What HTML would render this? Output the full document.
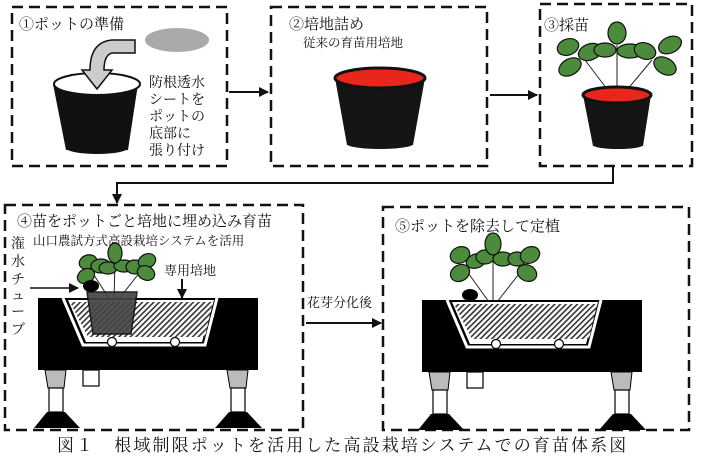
<!DOCTYPE html>
<html><head><meta charset="utf-8"><style>
html,body{margin:0;padding:0;background:#fff;}
svg{display:block;}
text{font-family:"Liberation Serif","Noto Serif CJK SC","Noto Sans CJK JP",serif;fill:#111;}
.lf{fill:#4c8a3c;stroke:#111;stroke-width:1.2;}
</style></head><body>
<svg width="701" height="460" viewBox="0 0 701 460" xmlns="http://www.w3.org/2000/svg">
<defs>
<pattern id="h" width="4" height="4" patternUnits="userSpaceOnUse" patternTransform="rotate(45)">
<rect width="4" height="4" fill="#fff"/><rect width="1.6" height="4" fill="#333"/>
</pattern>
<marker id="ar" markerWidth="10" markerHeight="10" refX="9" refY="5" orient="auto" markerUnits="userSpaceOnUse"><path d="M0,0 L10,5 L0,10 z" fill="#111"/></marker>
<g id="bench">
<rect x="0" y="0" width="220" height="72" fill="#000"/>
<path d="M25,0 L45,47 L167,47 L179,0" fill="none" stroke="#fff" stroke-width="3"/>
<path d="M28,2 L30,2 L48,44 L164,44 L176,2 Z" fill="#fff"/>
<path d="M32,4 L175,4 L167,39 L50,39 Z" fill="url(#h)"/>
<circle cx="74" cy="44" r="4.5" fill="#fff" stroke="#000" stroke-width="1.2"/>
<circle cx="137" cy="44" r="4.5" fill="#fff" stroke="#000" stroke-width="1.2"/>
<rect x="45" y="72" width="16" height="16" fill="#fff" stroke="#000" stroke-width="1.2"/>
<path d="M7,72 L28,72 L26,90 L10,90 Z" fill="#bbb" stroke="#000"/>
<rect x="11" y="90" width="14" height="24" fill="#fff" stroke="#000" stroke-width="1.2"/>
<path d="M9,114 L27,114 L42,130 L-4,130 Z" fill="#000"/>
<path d="M189,72 L210,72 L208,90 L192,90 Z" fill="#bbb" stroke="#000"/>
<rect x="193" y="90" width="14" height="24" fill="#fff" stroke="#000" stroke-width="1.2"/>
<path d="M191,114 L209,114 L224,130 L177,130 Z" fill="#000"/>
</g>
</defs>
<g fill="none" stroke="#111" stroke-width="2.5" stroke-dasharray="11,6">
<rect x="12" y="7" width="215" height="159"/>
<rect x="271" y="7" width="216" height="159"/>
<rect x="540" y="4" width="152" height="162"/>
<rect x="5" y="205" width="298" height="225"/>
<rect x="383" y="207" width="306" height="223"/>
</g>
<g stroke="#111" stroke-width="2" fill="none">
<line x1="229" y1="92" x2="268" y2="92" marker-end="url(#ar)"/>
<line x1="490" y1="95" x2="537" y2="95" marker-end="url(#ar)"/>
<polyline points="613,166 613,183 117,183 117,203" marker-end="url(#ar)"/>
<line x1="306" y1="323" x2="381" y2="323" marker-end="url(#ar)"/>
</g>
<!-- box1 -->
<text x="19" y="29" font-size="15">①ポットの準備</text>
<ellipse cx="177" cy="40" rx="32" ry="12" fill="#aaa"/>
<path d="M53,84 L138,84 L128,150 L66,150 Z" fill="#111"/>
<ellipse cx="97" cy="148" rx="31" ry="6" fill="#111"/>
<ellipse cx="97" cy="84" rx="43" ry="11" fill="#fff" stroke="#111" stroke-width="2"/>
<path d="M135,40 L135,53 L112,53 Q104,55 104,70 L112,70 L97,89 L82,70 L90,70 Q90,42 112,40 Z" fill="#ccc" stroke="#111" stroke-width="1.5"/>
<g font-size="14"><text x="149" y="87">防根透水</text><text x="149" y="104">シートを</text><text x="149" y="121">ポットの</text><text x="149" y="138">底部に</text><text x="149" y="155">張り付け</text></g>
<!-- box2 -->
<text x="289" y="29" font-size="15">②培地詰め</text>
<text x="303" y="47" font-size="12.5">従来の育苗用培地</text>
<path d="M335,78 L425,78 L413,145 L347,145 Z" fill="#151515"/>
<ellipse cx="380" cy="144" rx="33" ry="5" fill="#151515"/>
<ellipse cx="380" cy="78" rx="45" ry="10" fill="#e8261c" stroke="#111" stroke-width="3"/>
<!-- box3 -->
<text x="544" y="30" font-size="15">③採苗</text>
<g stroke="#222" stroke-width="1"><line x1="613" y1="97" x2="585" y2="60"/><line x1="617" y1="97" x2="617" y2="45"/><line x1="621" y1="97" x2="652" y2="60"/></g>
<ellipse class="lf" cx="568" cy="47" rx="11" ry="8" transform="rotate(-20 568 47)"/>
<ellipse class="lf" cx="570" cy="67" rx="12" ry="8" transform="rotate(-30 570 67)"/>
<ellipse class="lf" cx="590" cy="52" rx="12" ry="8" transform="rotate(-20 590 52)"/>
<ellipse class="lf" cx="605" cy="50" rx="11" ry="7"/>
<ellipse class="lf" cx="630" cy="51" rx="13" ry="7"/>
<ellipse class="lf" cx="617" cy="33" rx="9" ry="11"/>
<ellipse class="lf" cx="645" cy="51" rx="11" ry="8" transform="rotate(20 645 51)"/>
<ellipse class="lf" cx="670" cy="45" rx="12" ry="8" transform="rotate(-25 670 45)"/>
<ellipse class="lf" cx="665" cy="66" rx="12" ry="8" transform="rotate(30 665 66)"/>
<path d="M583,95 L651,95 L643,146 L593,146 Z" fill="#151515"/>
<ellipse cx="618" cy="145" rx="25" ry="4" fill="#151515"/>
<ellipse cx="617" cy="95" rx="34" ry="8" fill="#e8261c" stroke="#111" stroke-width="3"/>
<!-- box4 -->
<text x="17" y="226" font-size="15">④苗をポットごと培地に埋め込み育苗</text>
<text x="33" y="245" font-size="12.5">山口農試方式高設栽培システムを活用</text>
<g font-size="14"><text x="11" y="248">潅</text><text x="11" y="266">水</text><text x="11" y="284">チ</text><text x="11" y="300">ュ</text><text x="11" y="316">ー</text><text x="11" y="334">ブ</text></g>
<text x="164" y="275" font-size="13">専用培地</text>
<use href="#bench" transform="translate(38,298)"/>
<g stroke="#222" stroke-width="1"><line x1="110" y1="300" x2="92" y2="272"/><line x1="114" y1="300" x2="115" y2="262"/><line x1="118" y1="300" x2="140" y2="272"/></g>
<ellipse class="lf" cx="88" cy="262" rx="9" ry="7" transform="rotate(-20 88 262)"/>
<ellipse class="lf" cx="86" cy="276" rx="9" ry="7" transform="rotate(-30 86 276)"/>
<ellipse class="lf" cx="101" cy="266" rx="10" ry="7"/>
<ellipse class="lf" cx="108" cy="268" rx="9" ry="6"/>
<ellipse class="lf" cx="124" cy="266" rx="10" ry="6"/>
<ellipse class="lf" cx="115" cy="253" rx="7" ry="10"/>
<ellipse class="lf" cx="135" cy="267" rx="9" ry="7"/>
<ellipse class="lf" cx="147" cy="261" rx="9" ry="7" transform="rotate(-25 147 261)"/>
<ellipse class="lf" cx="146" cy="273" rx="9" ry="7" transform="rotate(25 146 273)"/>
<path d="M87,292 L137,292 L131,334 L93,334 Z" fill="#444" stroke="#111" stroke-width="1.5" opacity="0.92"/>
<ellipse cx="91" cy="286" rx="8" ry="6" fill="#000"/>
<line x1="30" y1="288" x2="78" y2="288" stroke="#111" stroke-width="1.5" marker-end="url(#ar)"/>
<line x1="182" y1="279" x2="182" y2="298" stroke="#111" stroke-width="2" marker-end="url(#ar)"/>
<!-- arrow label -->
<text x="307" y="307" font-size="13">花芽分化後</text>
<!-- box5 -->
<text x="395" y="231" font-size="15">⑤ポットを除去して定植</text>
<use href="#bench" transform="translate(422,300)"/>
<g stroke="#222" stroke-width="1"><line x1="489" y1="302" x2="466" y2="270"/><line x1="493" y1="302" x2="493" y2="252"/><line x1="497" y1="302" x2="522" y2="270"/></g>
<ellipse class="lf" cx="460" cy="255" rx="10" ry="8" transform="rotate(-25 460 255)"/>
<ellipse class="lf" cx="460" cy="273" rx="10" ry="8" transform="rotate(-30 460 273)"/>
<ellipse class="lf" cx="476" cy="261" rx="10" ry="7" transform="rotate(-20 476 261)"/>
<ellipse class="lf" cx="485" cy="257" rx="9" ry="7"/>
<ellipse class="lf" cx="503" cy="259" rx="10" ry="7"/>
<ellipse class="lf" cx="493" cy="244" rx="8" ry="11"/>
<ellipse class="lf" cx="517" cy="259" rx="9" ry="7"/>
<ellipse class="lf" cx="530" cy="255" rx="10" ry="8" transform="rotate(-25 530 255)"/>
<ellipse class="lf" cx="527" cy="273" rx="10" ry="8" transform="rotate(25 527 273)"/>
<ellipse cx="470" cy="295" rx="8" ry="6" fill="#000"/>
<!-- caption -->
<text x="57" y="451" font-size="17" letter-spacing="2.1">図１　根域制限ポットを活用した高設栽培システムでの育苗体系図</text>
</svg>
</body></html>
